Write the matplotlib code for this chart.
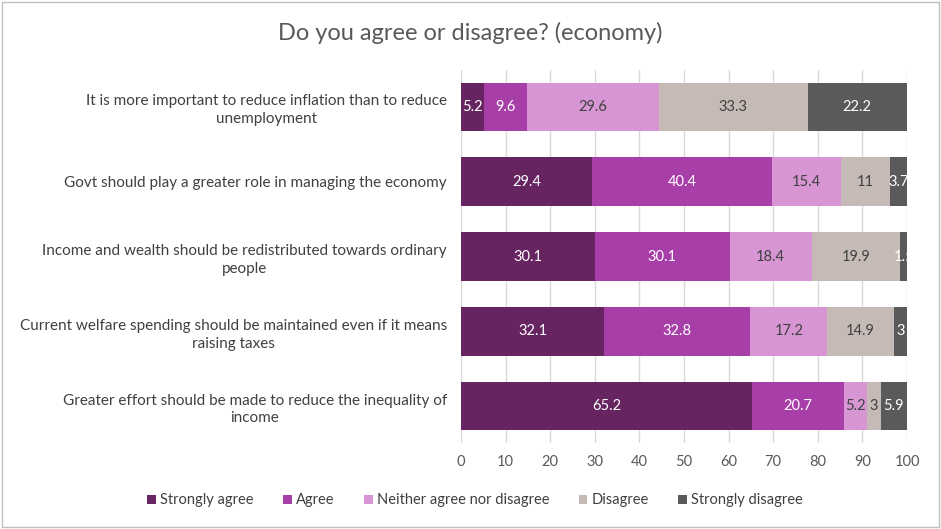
import matplotlib
matplotlib.use("Agg")
import matplotlib.pyplot as plt
from matplotlib.patches import Rectangle, Patch
import numpy as np

plt.rcParams["font.family"] = ["Lato", "DejaVu Sans"]

questions = [
    "It is more important to reduce inflation than to reduce\nunemployment",
    "Govt should play a greater role in managing the economy",
    "Income and wealth should be redistributed towards ordinary\npeople",
    "Current welfare spending should be maintained even if it means\nraising taxes",
    "Greater effort should be made to reduce the inequality of\nincome",
]
responses = ["Strongly agree", "Agree", "Neither agree nor disagree", "Disagree", "Strongly disagree"]
strongly_agree = [5.2, 29.4, 30.1, 32.1, 65.2]
agree = [9.6, 40.4, 30.1, 32.8, 20.7]
neither = [29.6, 15.4, 18.4, 17.2, 5.2]
disagree = [33.3, 11, 19.9, 14.9, 3]
strongly_disagree = [22.2, 3.7, 1.5, 3, 5.9]

colors = ["#662460", "#A83FA8", "#D796D3", "#C5BAB6", "#5A5A5A"]
label_colors = ["white", "white", "#404040", "#404040", "white"]

series = [strongly_agree, agree, neither, disagree, strongly_disagree]

fig = plt.figure(figsize=(9.41, 5.29), dpi=100)
ax = fig.add_axes([0.4899, 0.1618, 0.474, 0.7066])

y = np.arange(len(questions))
left = np.zeros(len(questions))
for vals, col, tcol in zip(series, colors, label_colors):
    vals = np.array(vals, dtype=float)
    ax.barh(y, vals, left=left, height=0.65, color=col, zorder=2)
    for yi, (l, v) in enumerate(zip(left, vals)):
        ax.text(l + v / 2, yi, f"{v:g}", ha="center", va="center",
                color=tcol, fontsize=10.5, clip_on=True, zorder=3)
    left += vals

ax.set_xlim(0, 100)
ax.set_ylim(len(questions) - 0.5, -0.5)
ax.set_xticks(range(0, 101, 10))
ax.set_yticks(y)
ax.set_yticklabels(questions, fontsize=11, color="#404040", ha="right",
                   multialignment="center", linespacing=1.35)
ax.tick_params(axis="x", colors="#595959", labelsize=10.5, length=0, pad=8)
ax.tick_params(axis="y", length=0, pad=10)
ax.grid(axis="x", color="#D9D9D9", linewidth=1, zorder=0)
for s in ax.spines.values():
    s.set_visible(False)

fig.text(0.5, 0.937, "Do you agree or disagree? (economy)", ha="center", va="center",
         fontsize=17, color="#595959")

handles = [Patch(facecolor=c, edgecolor="none") for c in colors]
fig.legend(handles, responses, loc="center", bbox_to_anchor=(0.505, 0.054), ncol=5,
           frameon=False, fontsize=10.5, handlelength=0.6, handleheight=0.6,
           handletextpad=0.3, columnspacing=2.0, labelcolor="#404040")

fig.patches.append(Rectangle((0.002, 0.003), 0.996, 0.994, transform=fig.transFigure,
                             fill=False, edgecolor="#BFBFBF", linewidth=1))

fig.savefig("out.png", dpi=100)
